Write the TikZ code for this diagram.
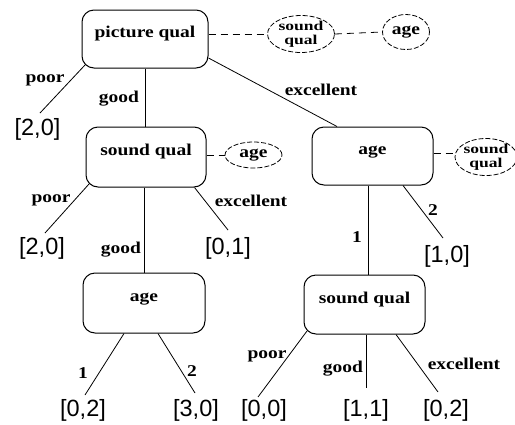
\documentclass[tikz,border=0pt]{standalone}
\usepackage{fontspec}
\setmainfont{Liberation Serif}
\newfontfamily\labfont[FakeStretch=1.18]{Liberation Serif}
\newfontfamily\ovfont[FakeStretch=1.3]{Liberation Serif}
\newfontfamily\leaffont{Liberation Sans}
\usetikzlibrary{shapes.geometric}
\begin{document}
\begin{tikzpicture}[x=1pt,y=-1pt,
  box/.style={draw, rounded corners=12pt, line width=1pt,
    font=\labfont\bfseries\fontsize{16.5}{18}\selectfont,
    text height=12pt, text depth=15pt, inner sep=0pt},
  ov/.style={draw, ellipse, line width=0.8pt, dash pattern=on 5pt off 2pt, inner sep=0pt},
  ovtext/.style={font=\ovfont\bfseries\fontsize{13.5}{#1}\selectfont, align=center, inner sep=0pt},
  lab/.style={font=\labfont\bfseries\fontsize{16.5}{18}\selectfont, inner sep=0pt},
  leaf/.style={font=\leaffont\fontsize{23.5}{26}\selectfont, inner sep=0pt},
  edge/.style={line width=0.8pt},
  dsh/.style={line width=0.8pt, dash pattern=on 7pt off 5pt}
]
\useasboundingbox (0,0) rectangle (515,424);

% decision boxes
\node[box, minimum width=126pt, minimum height=58pt] (pq) at (145,39) {picture qual};
\node[box, minimum width=120pt, minimum height=60pt] (sq1) at (146,157) {sound qual};
\node[box, minimum width=121pt, minimum height=58pt] (ag2) at (372.5,156) {age};
\node[box, minimum width=122pt, minimum height=60pt] (ag1) at (144,303) {age};
\node[box, minimum width=121pt, minimum height=59pt] (sq2) at (364.5,304.5) {sound qual};

% dashed ellipses
\node[ov, minimum width=67pt, minimum height=37pt,
  label={[ovtext=14.5]center:{sound\\qual}}] (e1) at (301,34) {};
\node[ov, minimum width=47pt, minimum height=35pt,
  label={[lab]center:{age}}] (e2) at (406,32) {};
\node[ov, minimum width=57pt, minimum height=26pt,
  label={[lab]center:{age}}] (e3) at (253.5,155) {};
\node[ov, minimum width=62pt, minimum height=37pt,
  label={[ovtext=14.5]center:{sound\\qual}}] (e4) at (486,157) {};

\draw[dsh] (e1.west -| pq.east) -- (e1.west);
\draw[dsh] (e1.east) -- (e2.west);
\draw[dsh] (e3.west -| sq1.east) -- (e3.west);
\draw[dsh] ([yshift=4pt]e4.west -| ag2.east) -- ([yshift=4pt]e4.west);

% leaves
\node[leaf] (l1) at (37.5,129) {[2,0]};
\node[leaf] (l2) at (42,248) {[2,0]};
\node[leaf] (l3) at (228,248) {[0,1]};
\node[leaf] (l4) at (447,256) {[1,0]};
\node[leaf] (l5) at (83,410) {[0,2]};
\node[leaf] (l6) at (196,410) {[3,0]};
\node[leaf] (l7) at (264,410) {[0,0]};
\node[leaf] (l8) at (366,410) {[1,1]};
\node[leaf] (l9) at (446,410) {[0,2]};

% free ends of connectors
\coordinate (t1) at (40,113);
\coordinate (t2) at (45,233);
\coordinate (t3) at (228,230);
\coordinate (t4) at (443,238);
\coordinate (t5) at (85,395);
\coordinate (t6) at (195,393);
\coordinate (t7) at (258,397);
\coordinate (t9) at (438,392);
\coordinate (c1) at ([xshift=-4.5pt]ag2.south);
\coordinate (c2) at ([xshift=1.5pt]sq2.south);

% connectors: level 1
\draw[edge] ([shift={(3.5pt,3.5pt)}]pq.south west) -- (t1);
\draw[edge] (pq.south) -- (pq.south |- sq1.north);
\draw[edge] ([yshift=-19pt]pq.east) -- ([xshift=-35.5pt]ag2.north);
% level 2
\draw[edge] ([shift={(3.5pt,3.5pt)}]sq1.south west) -- (t2);
\draw[edge] (ag1.north |- sq1.south) -- (ag1.north);
\draw[edge] ([xshift=-12pt]sq1.south east) -- (t3);
\draw[edge] (c1) -- (c1 |- sq2.north);
\draw[edge] ([xshift=30.5pt]ag2.south) -- (t4);
% level 3
\draw[edge] ([xshift=-20pt]ag1.south) -- (t5);
\draw[edge] ([xshift=14pt]ag1.south) -- (t6);
\draw[edge] ([shift={(3.5pt,3.5pt)}]sq2.south west) -- (t7);
\draw[edge] (c2) -- ([yshift=-53pt]c2);
\draw[edge] ([xshift=31.5pt]sq2.south) -- (t9);

% edge labels
\node[lab] (p1) at (45,80) {poor};
\node[lab] (g1) at (119,99) {good};
\node[lab] (x1) at (321,90) {excellent};
\node[lab] (p2) at (51,200) {poor};
\node[lab] (x2) at (251,201) {excellent};
\node[lab] (g2) at (121,250) {good};
\node[lab] (o2) at (357,237) {1};
\node[lab] (w2) at (433,210) {2};
\node[lab] (o3) at (83,373) {1};
\node[lab] (w3) at (192,371) {2};
\node[lab] (p3) at (267,356) {poor};
\node[lab] (g3) at (343,369) {good};
\node[lab] (x3) at (464,364) {excellent};
\end{tikzpicture}
\end{document}
